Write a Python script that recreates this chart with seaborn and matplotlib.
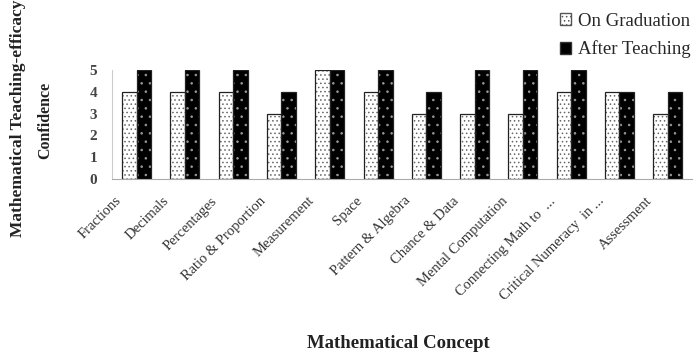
import matplotlib
matplotlib.use("Agg")
import matplotlib.pyplot as plt
import matplotlib.transforms as mtransforms
from matplotlib.patches import Patch, Rectangle
import pandas as pd
import seaborn as sns

categories = ["Fractions", "Decimals", "Percentages", "Ratio & Proportion",
              "Measurement", "Space", "Pattern & Algebra", "Chance & Data",
              "Mental Computation", "Connecting Math to  ...",
              "Critical Numeracy  in ...", "Assessment"]
series_names = ["On Graduation", "After Teaching"]
on_graduation = [4, 4, 4, 3, 5, 4, 3, 3, 3, 4, 4, 3]
after_teaching = [5, 5, 5, 4, 5, 5, 4, 5, 5, 5, 4, 4]
y_ticks = [0, 1, 2, 3, 4, 5]

sns.set_style("white")
plt.rcParams["font.family"] = ["Liberation Serif", "DejaVu Serif"]
plt.rcParams["hatch.linewidth"] = 0.6

df = pd.DataFrame({
    "Concept": categories * 2,
    "Series": [series_names[0]] * len(categories) + [series_names[1]] * len(categories),
    "Value": on_graduation + after_teaching,
})

fig = plt.figure(figsize=(6.94, 3.55), dpi=100)
ax = fig.add_axes([0.162, 0.4958, 0.835, 0.3072])

sns.barplot(data=df, x="Concept", y="Value", hue="Series", order=categories,
            hue_order=series_names, palette={series_names[0]: "white", series_names[1]: "black"},
            width=0.6, saturation=1, legend=False, ax=ax)

styles = {
    "white": dict(hatch="....", hcolor="#666666"),
    "black": dict(hatch="..", hcolor="#9a9a9a"),
}
for p in list(ax.patches):
    fc = p.get_facecolor()
    key = "white" if fc[0] > 0.5 else "black"
    st = styles[key]
    p.set_hatch(st["hatch"])
    p.set_edgecolor(st["hcolor"])
    p.set_linewidth(0)
    ax.add_patch(Rectangle((p.get_x(), p.get_y()), p.get_width(), p.get_height(),
                           fill=False, edgecolor="#222222", linewidth=0.9, zorder=p.get_zorder() + 0.1))

ax.set_xlim(-0.5, len(categories) - 0.5)
ax.set_ylim(0, 5)
ax.set_yticks(y_ticks)
ax.set_yticklabels([str(t) for t in y_ticks], fontsize=11, fontweight="bold", color="#444444")
ax.tick_params(axis="y", length=3, width=0.8, color="#bbbbbb", pad=8)

ax.set_xticks(range(len(categories)))
ax.set_xticklabels(categories, rotation=45, ha="right", va="top",
                   fontsize=10.5, color="#333333")
ax.set_xticks([i - 0.5 for i in range(len(categories) + 1)], minor=True)
ax.tick_params(axis="x", which="major", length=0, pad=11)
ax.tick_params(axis="x", which="minor", length=4, color="#aaaaaa", width=0.8)
offset = mtransforms.ScaledTranslation(-13 / 100, 0, fig.dpi_scale_trans)
for lbl in ax.get_xticklabels():
    lbl.set_transform(lbl.get_transform() + offset)

ax.set_xlabel("")
ax.set_ylabel("")
for s in ["top", "right"]:
    ax.spines[s].set_visible(False)
ax.spines["left"].set_color("#cccccc")
ax.spines["bottom"].set_color("#aaaaaa")
ax.spines["left"].set_linewidth(0.8)
ax.spines["bottom"].set_linewidth(0.8)

fig.text(18 / 694, 1 - 118 / 355, "Mathematical Teaching-efficacy", rotation=90,
         ha="center", va="center", fontsize=12.5, fontweight="bold", color="#222222")
fig.text(45 / 694, 1 - 120 / 355, "Confidence", rotation=90,
         ha="center", va="center", fontsize=11.5, fontweight="bold", color="#222222")
fig.text(398 / 694, 1 - 343 / 355, "Mathematical Concept", ha="center", va="center",
         fontsize=13.5, fontweight="bold", color="#222222")

handles = [Patch(facecolor="white", edgecolor="#555555", hatch="...."),
           Patch(facecolor="black", edgecolor="#333333")]
fig.legend(handles, series_names, loc="upper left", bbox_to_anchor=(560 / 694, 1 - 13 / 355),
           frameon=False, fontsize=13.5, handlelength=0.6, handleheight=0.6,
           handletextpad=0.35, labelspacing=0.55, borderpad=0, borderaxespad=0)

fig.savefig("out.png", dpi=100)
